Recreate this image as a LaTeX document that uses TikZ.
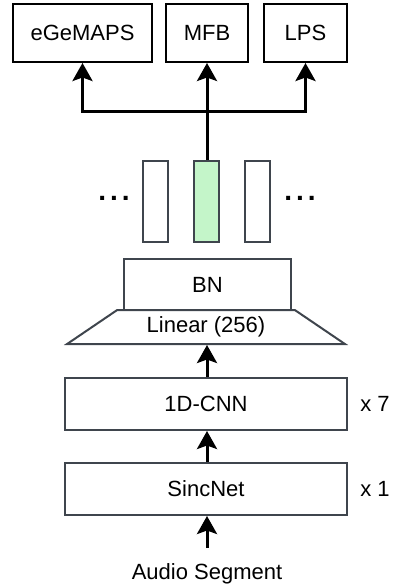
\documentclass[tikz,border=0pt]{standalone}
\usepackage{fontspec}
\setmainfont{Liberation Sans}
\usetikzlibrary{arrows.meta,shapes.geometric}
\definecolor{edgegray}{HTML}{3F454D}
\definecolor{selgreen}{HTML}{C4F5C9}
\newcommand{\bigdots}{{\fontsize{28}{30}\selectfont\bfseries.\hspace{4pt}.\hspace{4pt}.}}

\begin{document}
\begin{tikzpicture}[x=1pt, y=-1pt,
	every node/.style={font=\fontsize{22}{26}\selectfont, inner sep=0pt},
	feat/.style={draw=black, line width=2pt, minimum height=58pt},
	layer/.style={draw=edgegray, line width=2pt, minimum width=282pt, minimum height=52pt},
	emb/.style={draw=edgegray, line width=2pt, minimum width=25pt, minimum height=81pt},
	arr/.style={-{Stealth[length=18pt, width=20pt, inset=3.5pt]}, line width=3pt}]
	\useasboundingbox (0,0) rectangle (395,587);
	% output targets
	\node[feat, minimum width=139pt, name=egemaps] at (82.5, 33) {eGeMAPS};
	\node[feat, minimum width=82pt, name=mfb] at (207, 33) {MFB};
	\node[feat, minimum width=83pt, name=lps] at (305.5, 33) {LPS};
	% embedding frames
	\node[emb, name=fl] at (155.5, 201.5) {};
	\node[emb, fill=selgreen, name=fm] at (206.5, 201.5) {};
	\node[emb, name=fr] at (257.5, 201.5) {};
	\node[name=dl] at (114, 198) {\bigdots};
	\node[name=dr] at (300, 198) {\bigdots};
	% encoder
	\node[draw=edgegray, line width=2pt, trapezium, trapezium stretches=true, trapezium angle=31.5,
		minimum width=278pt, minimum height=34pt, name=lin] at (206, 327) {Linear (256)};
	\node[draw=edgegray, line width=2pt, minimum width=167pt, minimum height=51pt, name=bn] at (207.5, 284.5) {BN};
	\node[layer, name=cnn] at (206, 404) {1D-CNN};
	\node[layer, name=sinc] at (206, 489) {SincNet};
	\node[name=r7] at (375, 404) {x 7};
	\node[name=r1] at (375, 489) {x 1};
	\node[name=audio] at (207, 574) {Audio Segment};
	\coordinate (in) at (207, 548);
	\coordinate (split) at (207, 111);
	\draw[arr] (in) -- (sinc.south -| in);
	\draw[arr] (sinc.north -| in) -- (cnn.south -| in);
	\draw[arr] (cnn.north -| in) -- (lin.south -| in);
	\draw[arr] (fm.north -| in) -- (mfb.south -| in);
	\draw[arr] (split) -| (egemaps.south);
	\draw[arr] (split) -| (lps.south);
\end{tikzpicture}
\end{document}
